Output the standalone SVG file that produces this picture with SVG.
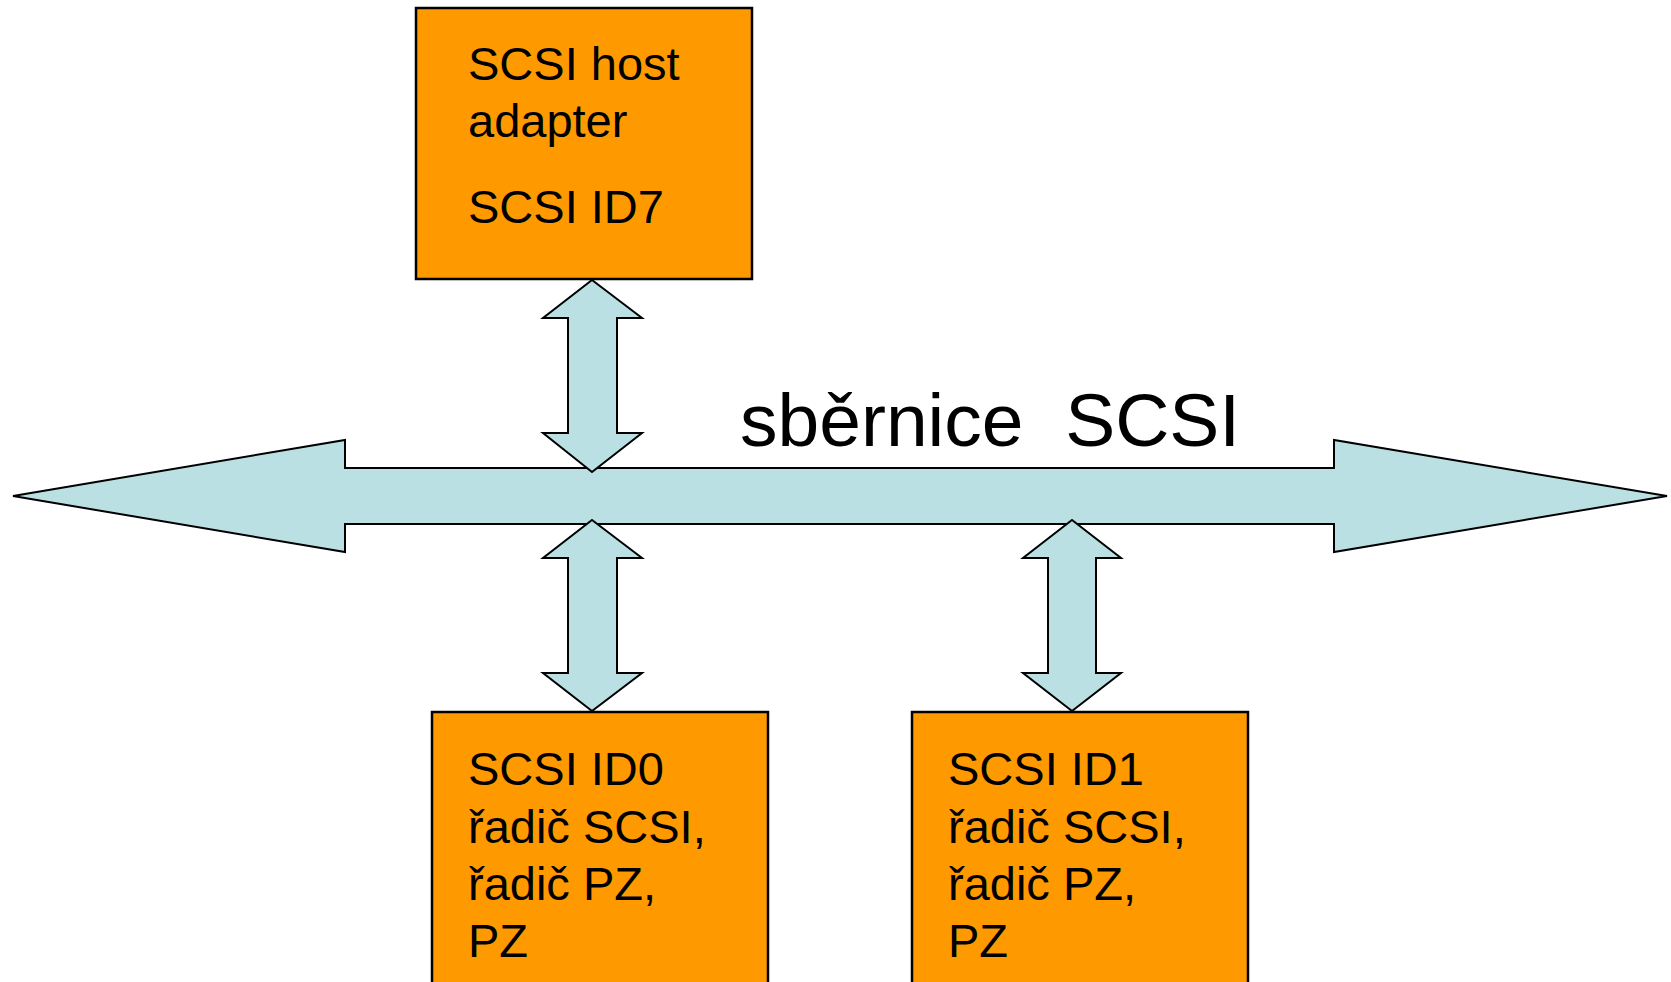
<svg xmlns="http://www.w3.org/2000/svg" width="1671" height="982" viewBox="0 0 1671 982">
  <style>
    .box { fill: #FF9900; stroke: #000; stroke-width: 2.5; }
    .arrow { fill: #BBE0E3; stroke: #000; stroke-width: 2; stroke-linejoin: miter; }
    .t { font-family: "Liberation Sans", Arial, sans-serif; font-size: 47px; fill: #000; }
    .bus { font-family: "Liberation Sans", Arial, sans-serif; font-size: 75px; fill: #000; }
  </style>
  <rect width="1671" height="982" fill="#fff"/>
  <g id="bus">
    <polygon class="arrow" points="13,496 345,440 345,468 1334,468 1334,440 1667,496 1334,552 1334,524 345,524 345,552"/>
    <text class="bus" x="740" y="446" xml:space="preserve">sběrnice  SCSI</text>
  </g>
  <g id="connectors">
    <polygon class="arrow" points="592,280 642,318 617,318 617,433 642,433 592,472 543,433 568,433 568,318 543,318"/>
    <polygon class="arrow" points="592,520 642,558 617,558 617,673 642,673 592,711 543,673 568,673 568,558 543,558"/>
    <polygon class="arrow" points="1072,520 1121,558 1096,558 1096,673 1121,673 1072,711 1023,673 1048,673 1048,558 1023,558"/>
  </g>
  <g id="host">
    <rect class="box" x="416" y="8" width="336" height="271"/>
    <text class="t" x="468" y="80">SCSI host</text>
    <text class="t" x="468" y="137">adapter</text>
    <text class="t" x="468" y="223">SCSI ID7</text>
  </g>
  <g id="dev0">
    <rect class="box" x="432" y="712" width="336" height="290"/>
    <text class="t" x="468" y="785">SCSI ID0</text>
    <text class="t" x="468" y="843">řadič SCSI,</text>
    <text class="t" x="468" y="900">řadič PZ,</text>
    <text class="t" x="468" y="957">PZ</text>
  </g>
  <g id="dev1">
    <rect class="box" x="912" y="712" width="336" height="290"/>
    <text class="t" x="948" y="785">SCSI ID1</text>
    <text class="t" x="948" y="843">řadič SCSI,</text>
    <text class="t" x="948" y="900">řadič PZ,</text>
    <text class="t" x="948" y="957">PZ</text>
  </g>
</svg>
